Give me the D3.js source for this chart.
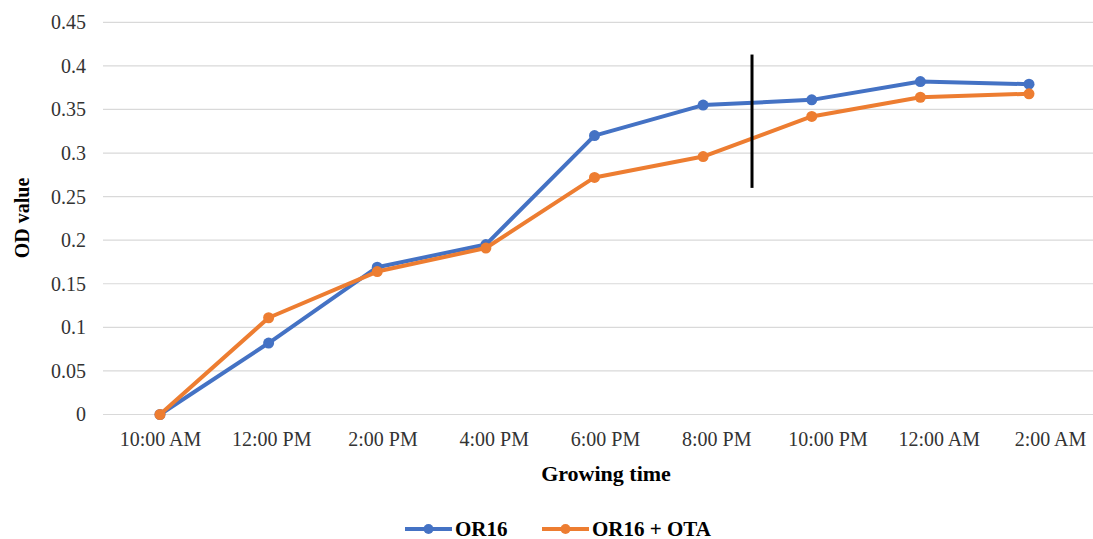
<!DOCTYPE html>
<html>
<head>
<meta charset="utf-8">
<script src="https://cdn.jsdelivr.net/npm/d3@7"></script>
<style>
  body { margin: 0; background: #fff; }
</style>
</head>
<body>
<svg id="chart" width="1093" height="539"></svg>
<script>
// data
var times = ["10:00 AM", "12:00 PM", "2:00 PM", "4:00 PM", "6:00 PM", "8:00 PM", "10:00 PM", "12:00 AM", "2:00 AM"];
var or16 = [0, 0.082, 0.169, 0.195, 0.320, 0.355, 0.361, 0.382, 0.379];
var or16ota = [0, 0.111, 0.164, 0.191, 0.272, 0.296, 0.342, 0.364, 0.368];
var yTicks = [0, 0.05, 0.1, 0.15, 0.2, 0.25, 0.3, 0.35, 0.4, 0.45];
// black marker line drawn on the chart: position between 8 PM and 10 PM (category index), y range
var markIndex = 5.45;
var markRange = [0.26, 0.413];

var series = [
  { name: "OR16", values: or16, color: "#4472C4" },
  { name: "OR16 + OTA", values: or16ota, color: "#ED7D31" }
];

var FONT = "'Times New Roman', 'Liberation Serif', 'DejaVu Serif', serif";

var svg = d3.select("#chart");
var margin = { top: 22.3, left: 103 },
    height = 392.2;

var g = svg.append("g")
  .attr("transform", "translate(" + margin.left + "," + margin.top + ")");

// points sit on this scale
var x = d3.scalePoint()
  .domain(times)
  .range([160 - margin.left, 1029 - margin.left]);

// category labels are spread a little wider than the points in the picture
var xLab = d3.scalePoint()
  .domain(times)
  .range([160 - margin.left, 1050 - margin.left]);

var y = d3.scaleLinear()
  .domain([0, 0.45])
  .range([height, 0]);

// gridlines
g.selectAll(".grid")
  .data(yTicks)
  .enter()
  .append("line")
  .attr("x1", 0)
  .attr("x2", 1093 - margin.left)
  .attr("y1", function (d) { return y(d); })
  .attr("y2", function (d) { return y(d); })
  .attr("stroke", "#d9d9d9")
  .attr("stroke-width", 1.2);

// y axis labels
var yAxis = g.append("g")
  .call(d3.axisLeft(y).tickValues(yTicks).tickSize(0).tickPadding(17)
    .tickFormat(function (d) { return String(+d.toFixed(2)); }));
yAxis.attr("font-family", FONT).attr("font-size", 20);
yAxis.select(".domain").remove();
yAxis.selectAll("text").attr("fill", "#333");

// x axis labels
var xAxis = g.append("g")
  .attr("transform", "translate(0," + height + ")")
  .call(d3.axisBottom(xLab).tickSize(0).tickPadding(17));
xAxis.attr("font-family", FONT).attr("font-size", 20);
xAxis.select(".domain").remove();
xAxis.selectAll("text").attr("fill", "#333");

// axis titles
svg.append("text")
  .attr("transform", "translate(29,218) rotate(-90)")
  .attr("text-anchor", "middle")
  .attr("font-family", FONT)
  .attr("font-size", 20)
  .attr("font-weight", "bold")
  .attr("fill", "#000")
  .text("OD value");

svg.append("text")
  .attr("x", 606)
  .attr("y", 481)
  .attr("text-anchor", "middle")
  .attr("font-family", FONT)
  .attr("font-size", 22)
  .attr("font-weight", "bold")
  .attr("fill", "#000")
  .text("Growing time");

var line = d3.line()
  .x(function (d, i) { return x(times[i]); })
  .y(function (d) { return y(d); });

series.forEach(function (s) {
  g.append("path")
    .datum(s.values)
    .attr("d", line)
    .attr("fill", "none")
    .attr("stroke", s.color)
    .attr("stroke-width", 4)
    .attr("stroke-linejoin", "round");

  g.selectAll(null)
    .data(s.values)
    .enter()
    .append("circle")
    .attr("cx", function (d, i) { return x(times[i]); })
    .attr("cy", function (d) { return y(d); })
    .attr("r", 5.5)
    .attr("fill", s.color);
});

// vertical black marker
var mx = x(times[0]) + markIndex * x.step();
g.append("line")
  .attr("x1", mx).attr("x2", mx)
  .attr("y1", y(markRange[1])).attr("y2", y(markRange[0]))
  .attr("stroke", "#000")
  .attr("stroke-width", 3);

// legend
var legend = svg.append("g").attr("transform", "translate(405,529)");
var lx = [0, 137];
series.forEach(function (s, i) {
  var lg = legend.append("g").attr("transform", "translate(" + lx[i] + ",0)");
  lg.append("line").attr("x1", 0).attr("x2", 47).attr("y1", 0).attr("y2", 0)
    .attr("stroke", s.color).attr("stroke-width", 4);
  lg.append("circle").attr("cx", 23.5).attr("cy", 0).attr("r", 5).attr("fill", s.color);
  lg.append("text").attr("x", 50).attr("y", 6.5)
    .attr("font-family", FONT)
    .attr("font-size", 21).attr("font-weight", "bold").attr("fill", "#000")
    .text(s.name);
});
</script>
</body>
</html>
